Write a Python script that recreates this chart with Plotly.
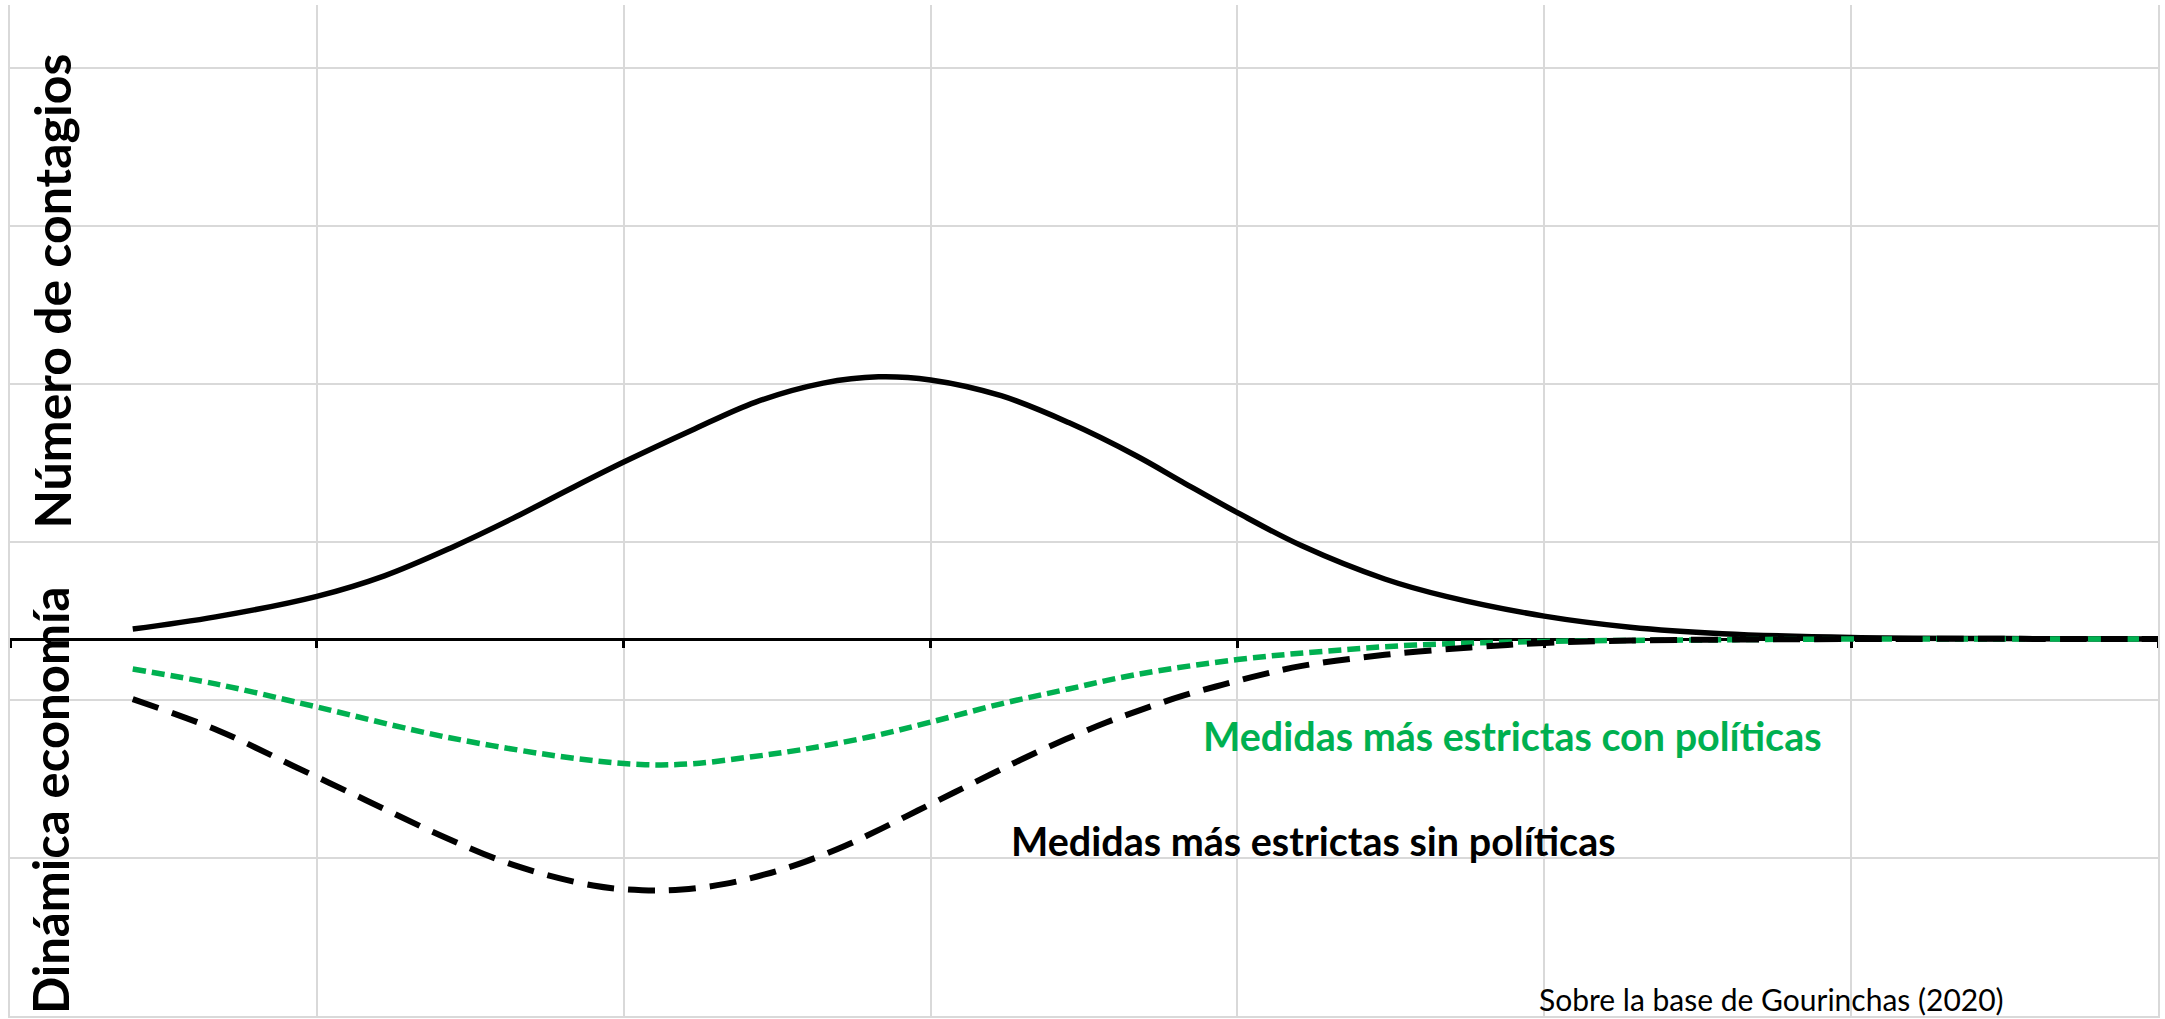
import plotly.graph_objects as go

# --- data ---
contagios_x = [0.40, 0.67, 1.00, 1.22, 1.44, 1.64, 1.82, 2.00, 2.22, 2.43, 2.65, 2.83, 3.00,
               3.23, 3.45, 3.67, 3.82, 4.00, 4.21, 4.48, 4.68, 5.00, 5.28, 5.58, 6.00, 6.50, 7.00]
contagios_y = [0.063, 0.14, 0.27, 0.40, 0.58, 0.765, 0.945, 1.12, 1.32, 1.50, 1.62, 1.66, 1.64,
               1.54, 1.37, 1.16, 0.995, 0.80, 0.59, 0.38, 0.27, 0.145, 0.075, 0.034, 0.01, 0.003, 0.0]

con_pol_x = [0.40, 0.67, 1.00, 1.42, 1.85, 2.07, 2.22, 2.40, 2.58, 2.80, 3.00, 3.23, 3.45,
             3.67, 4.00, 4.28, 4.58, 5.00, 5.48, 6.00, 7.00]
con_pol_y = [-0.19, -0.284, -0.43, -0.62, -0.758, -0.795, -0.79, -0.75, -0.70, -0.62, -0.526,
             -0.41, -0.316, -0.225, -0.13, -0.078, -0.038, -0.015, -0.006, 0.0, 0.0]

sin_pol_x = [0.40, 0.68, 0.92, 1.16, 1.40, 1.64, 1.90, 2.06, 2.19, 2.33, 2.46, 2.59, 2.72, 2.84,
             2.96, 3.08, 3.20, 3.32, 3.44, 3.57, 3.69, 3.82, 3.95, 4.08, 4.21, 4.48, 4.76, 5.00,
             5.28, 6.00, 7.00]
sin_pol_y = [-0.38, -0.58, -0.80, -1.02, -1.24, -1.43, -1.56, -1.59, -1.585, -1.55, -1.49, -1.41,
             -1.31, -1.20, -1.084, -0.968, -0.853, -0.74, -0.635, -0.53, -0.445, -0.36, -0.29,
             -0.225, -0.17, -0.10, -0.053, -0.025, -0.01, 0.0, 0.0]

label_con = "Medidas más estrictas con políticas"
label_sin = "Medidas más estrictas sin políticas"
title_top = "Número de contagios"
title_bottom = "Dinámica economía"
source_text = "Sobre la base de Gourinchas (2020)"

Y_MIN, Y_MAX = -2.386, 4.013
X_MIN, X_MAX = 0, 7
GREEN = "#00B050"
GRID = "#D9D9D9"
FONT = "Lato, 'Open Sans', sans-serif"

fig = go.Figure()
fig.add_trace(go.Scatter(x=contagios_x, y=contagios_y, mode="lines", xaxis="x", yaxis="y",
                         line=dict(color="black", width=5.5, shape="spline", smoothing=1.0),
                         showlegend=False))
fig.add_trace(go.Scatter(x=con_pol_x, y=con_pol_y, mode="lines", xaxis="x2", yaxis="y",
                         line=dict(color=GREEN, width=5.5, shape="spline", smoothing=1.0,
                                   dash="13px,6px"),
                         showlegend=False))
fig.add_trace(go.Scatter(x=sin_pol_x, y=sin_pol_y, mode="lines", xaxis="x2", yaxis="y",
                         line=dict(color="black", width=6, shape="spline", smoothing=1.0,
                                   dash="27px,14px"),
                         showlegend=False))

fig.update_layout(
    width=2165, height=1019,
    margin=dict(l=10, r=7, t=5, b=3),
    paper_bgcolor="white", plot_bgcolor="white",
    showlegend=False,
    xaxis=dict(range=[X_MIN, X_MAX], tick0=0, dtick=1, showgrid=True, gridcolor=GRID,
               gridwidth=1.5, showline=True, linecolor=GRID, linewidth=1.5,
               showticklabels=False, ticks="", zeroline=False, fixedrange=True),
    xaxis2=dict(range=[X_MIN, X_MAX], tick0=0, dtick=1, overlaying="x", anchor="free",
                position=(0 - Y_MIN) / (Y_MAX - Y_MIN), side="bottom",
                showline=True, linecolor="black", linewidth=3, showgrid=False,
                ticks="outside", ticklen=7, tickwidth=2.5, tickcolor="black",
                showticklabels=False, zeroline=False, layer="below traces", fixedrange=True),
    yaxis=dict(range=[Y_MIN, Y_MAX], tick0=Y_MIN, dtick=1, showgrid=True, gridcolor=GRID,
               gridwidth=1.5, showline=True, linecolor=GRID, linewidth=1.5, mirror=True,
               showticklabels=False, ticks="", zeroline=False, fixedrange=True),
    font=dict(family=FONT, color="black"),
)

fig.add_annotation(x=3.88, y=-0.61, xref="x", yref="y", text=label_con, showarrow=False,
                   xanchor="left", yanchor="middle",
                   font=dict(family=FONT, size=39.5, color=GREEN, weight="bold"))
fig.add_annotation(x=3.254, y=-1.275, xref="x", yref="y", text=label_sin, showarrow=False,
                   xanchor="left", yanchor="middle",
                   font=dict(family=FONT, size=39.5, color="black", weight="bold"))
fig.add_annotation(x=0.137, y=2.20, xref="x", yref="y", text=title_top, showarrow=False,
                   textangle=-90, xanchor="center", yanchor="middle",
                   font=dict(family=FONT, size=50, color="black", weight="bold"))
fig.add_annotation(x=0.13, y=-1.02, xref="x", yref="y", text=title_bottom, showarrow=False,
                   textangle=-90, xanchor="center", yanchor="middle",
                   font=dict(family=FONT, size=49, color="black", weight="bold"))
fig.add_annotation(x=4.976, y=-2.28, xref="x", yref="y", text=source_text, showarrow=False,
                   xanchor="left", yanchor="middle",
                   font=dict(family=FONT, size=30, color="black"))

fig.write_html("out.html",
               config={"displayModeBar": False},
               post_script="document.body.style.margin='0';document.body.style.padding='0';")
